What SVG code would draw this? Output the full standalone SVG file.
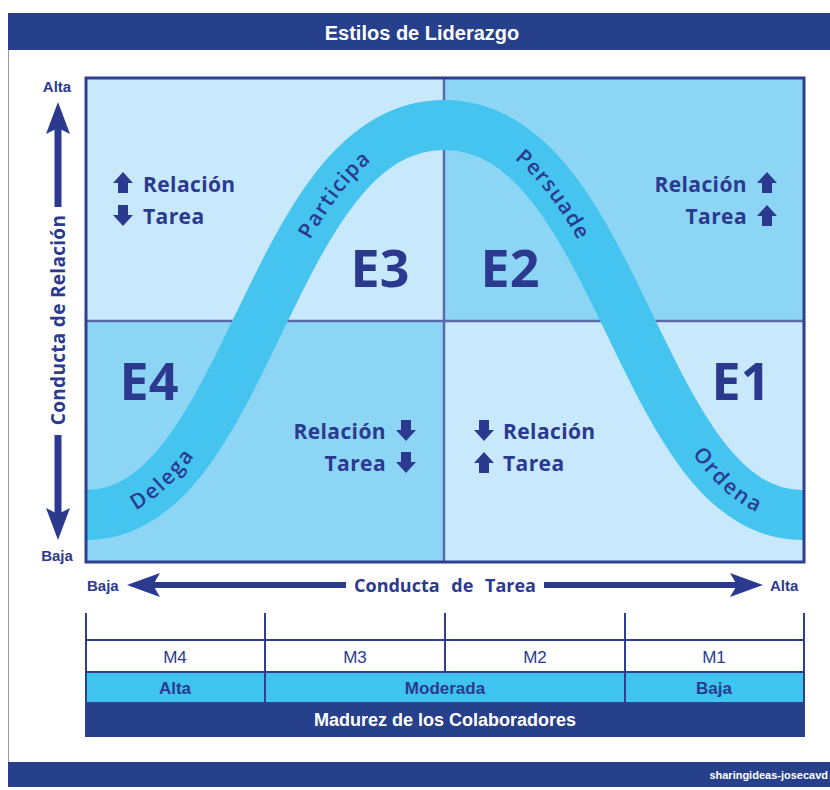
<svg xmlns="http://www.w3.org/2000/svg" width="830" height="790" viewBox="0 0 830 790">
<style>
.nar{font-family:"Liberation Sans",Arial,sans-serif;font-weight:bold}
.q{font-family:"Open Sans","Liberation Sans",sans-serif;font-weight:700;font-size:21px;fill:#2B3A8F;letter-spacing:0.4px}
.big{font-family:"Open Sans","Liberation Sans",sans-serif;font-weight:700;font-size:52px;fill:#2B3A8F;text-anchor:middle}
.bandtxt{font-family:"Open Sans","Liberation Sans",sans-serif;font-weight:600;font-size:21px;fill:#2B3A8F;letter-spacing:1.6px}
.dk{fill:#2B3A8F}
.ln{stroke:#2E3F8F;stroke-width:2;fill:none}
.div{stroke:#5B6BAA;stroke-width:2.5;fill:none}
</style>
<defs>
<clipPath id="gridclip"><rect x="86" y="78" width="718" height="484"/></clipPath>
<path id="curve" d="M86,515 C250,515 268,125 444,125 C620,125 638,515 802,515"/>
<path id="up" d="M0,0 L10,11 L5,11 L5,21 L-5,21 L-5,11 L-10,11 Z"/>
<path id="down" d="M0,21 L10,10 L5,10 L5,0 L-5,0 L-5,10 L-10,10 Z"/>
</defs>
<rect width="830" height="790" fill="#ffffff"/>
<!-- frame -->
<g id="frame">
<line x1="8.5" y1="14" x2="8.5" y2="787" stroke="#9a9a9a" stroke-width="1"/>
<rect x="8" y="13" width="822" height="37" fill="#27408B"/>
<text x="422" y="40" class="nar" font-size="20" fill="#ffffff" text-anchor="middle">Estilos de Liderazgo</text>
<rect x="8" y="762" width="822" height="25" fill="#27408B"/>
<text x="828" y="779" class="nar" font-size="11" fill="#ffffff" text-anchor="end">sharingideas-josecavd</text>
</g>
<!-- quadrants -->
<g id="quadrants">
<rect id="q-e3" x="86" y="78" width="358" height="243" fill="#C8E9FB"/>
<rect id="q-e2" x="444" y="78" width="360" height="243" fill="#8DD5F5"/>
<rect id="q-e4" x="86" y="321" width="358" height="241" fill="#8DD5F5"/>
<rect id="q-e1" x="444" y="321" width="360" height="241" fill="#C8E9FB"/>
<line class="div" x1="444" y1="78" x2="444" y2="562"/>
<line class="div" x1="86" y1="321" x2="804" y2="321"/>
</g>
<!-- band -->
<g id="band" clip-path="url(#gridclip)">
<path d="M70,515 L86,515 C250,515 268,125 444,125 C620,125 638,515 802,515 L820,515" fill="none" stroke="#44C4EF" stroke-width="50"/>
</g>
<rect x="86" y="78" width="718" height="484" fill="none" stroke="#2E3F8F" stroke-width="3"/>
<g id="band-labels" class="bandtxt">
<text dy="7.5" text-anchor="middle"><textPath href="#curve" startOffset="7.8%">Delega</textPath></text>
<text dy="7.5" text-anchor="middle"><textPath href="#curve" startOffset="37.8%">Participa</textPath></text>
<text dy="7.5" text-anchor="middle"><textPath href="#curve" startOffset="62.2%">Persuade</textPath></text>
<text dy="7.5" text-anchor="middle"><textPath href="#curve" startOffset="92.4%">Ordena</textPath></text>
</g>
<!-- big labels -->
<g id="e3"><text class="big" x="380" y="287">E3</text></g>
<g id="e2"><text class="big" x="510" y="287">E2</text></g>
<g id="e4"><text class="big" x="149" y="400">E4</text></g>
<g id="e1"><text class="big" x="741" y="400">E1</text></g>
<!-- quadrant notes -->
<g id="note-e3" class="dk">
<use href="#up" x="123" y="172"/><text class="q" x="143" y="192">Relación</text>
<use href="#down" x="123" y="205"/><text class="q" x="143" y="224">Tarea</text>
</g>
<g id="note-e2" class="dk">
<text class="q" x="747" y="192" text-anchor="end">Relación</text><use href="#up" x="767" y="172"/>
<text class="q" x="747" y="224" text-anchor="end">Tarea</text><use href="#up" x="767" y="205"/>
</g>
<g id="note-e4" class="dk">
<text class="q" x="386" y="439" text-anchor="end">Relación</text><use href="#down" x="406" y="420"/>
<text class="q" x="386" y="471" text-anchor="end">Tarea</text><use href="#down" x="406" y="452"/>
</g>
<g id="note-e1" class="dk">
<use href="#down" x="484" y="420"/><text class="q" x="503" y="439">Relación</text>
<use href="#up" x="484" y="452"/><text class="q" x="503" y="471">Tarea</text>
</g>
<!-- axes -->
<g id="axis-y" class="dk">
<text class="nar" x="57" y="92" font-size="15" text-anchor="middle">Alta</text>
<polygon points="58,102 70,134 58,128 46,134"/>
<rect x="54.5" y="127" width="7" height="80"/>
<text transform="translate(65,320) rotate(-90)" text-anchor="middle" font-family="Open Sans, Liberation Sans, sans-serif" font-weight="700" font-size="19" letter-spacing="0.3">Conducta de Relación</text>
<rect x="54.5" y="435" width="7" height="80"/>
<polygon points="58,540 70,508 58,514 46,508"/>
<text class="nar" x="57" y="561" font-size="15" text-anchor="middle">Baja</text>
</g>
<g id="axis-x" class="dk">
<text class="nar" x="87" y="591" font-size="15">Baja</text>
<polygon points="127,585 160,573 153,585 160,597"/>
<rect x="153" y="582" width="193" height="6"/>
<text x="445" y="592" text-anchor="middle" font-family="Open Sans, Liberation Sans, sans-serif" font-weight="700" font-size="18" word-spacing="7">Conducta de Tarea</text>
<rect x="544" y="582" width="193" height="6"/>
<polygon points="763,585 730,573 737,585 730,597"/>
<text class="nar" x="770" y="591" font-size="15">Alta</text>
</g>
<!-- maturity table -->
<g id="table">
<rect x="86" y="672" width="718" height="31" fill="#3EC4EE"/>
<rect x="86" y="703" width="718" height="34" fill="#27408B"/>
<line class="ln" x1="86" y1="640" x2="804" y2="640"/>
<line class="ln" x1="86" y1="672" x2="804" y2="672"/>
<line class="ln" x1="86" y1="703" x2="804" y2="703"/>
<line class="ln" x1="86" y1="613" x2="86" y2="737"/>
<line class="ln" x1="804" y1="613" x2="804" y2="737"/>
<line class="ln" x1="265" y1="613" x2="265" y2="703"/>
<line class="ln" x1="445" y1="613" x2="445" y2="672"/>
<line class="ln" x1="625" y1="613" x2="625" y2="703"/>
<g font-family="Liberation Sans, Arial, sans-serif" font-size="17" fill="#2B3A8F" text-anchor="middle">
<text x="175" y="663">M4</text>
<text x="355" y="663">M3</text>
<text x="535" y="663">M2</text>
<text x="714" y="663">M1</text>
<text x="175" y="694" font-weight="bold">Alta</text>
<text x="445" y="694" font-weight="bold">Moderada</text>
<text x="714" y="694" font-weight="bold">Baja</text>
</g>
<text class="nar" x="445" y="726" font-size="18" fill="#ffffff" text-anchor="middle">Madurez de los Colaboradores</text>
</g>
</svg>
